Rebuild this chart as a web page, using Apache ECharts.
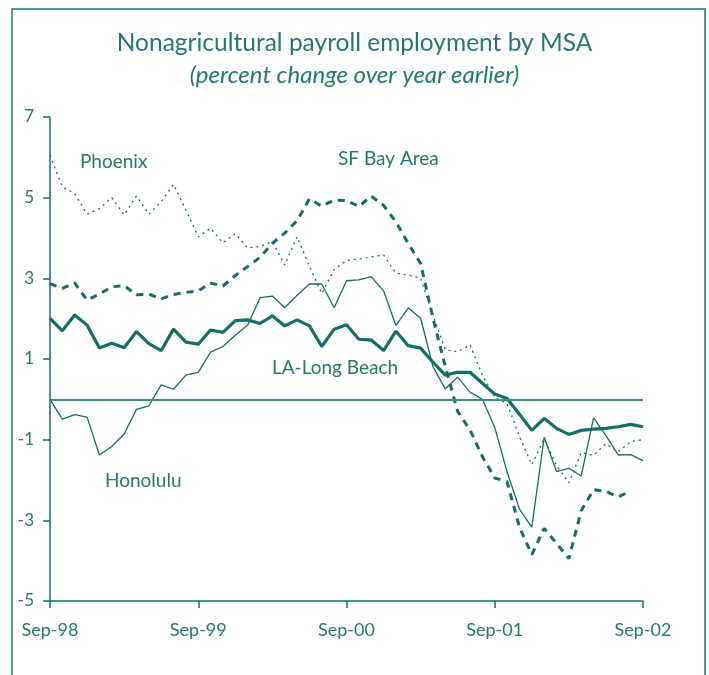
<!DOCTYPE html>
<html>
<head>
    <meta charset="utf-8">
    <title>Nonagricultural payroll employment by MSA</title>
    <script src="https://cdn.jsdelivr.net/npm/echarts@6.0.0/dist/echarts.min.js"></script>
    <style>
        html, body { margin: 0; padding: 0; background: #fff; }
        #chart { width: 709px; height: 675px; }
    </style>
</head>
<body>
<div id="chart"></div>
<script type="text/javascript">
    // monthly, Sep-98 .. Sep-02
    var monthNames = ['Sep', 'Oct', 'Nov', 'Dec', 'Jan', 'Feb', 'Mar', 'Apr', 'May', 'Jun', 'Jul', 'Aug'];
    var startYear = 98;
    var monthCount = 49;

    var yTicks = [-5, -3, -1, 1, 3, 5, 7];

    var laLongBeach = [2.01, 1.70, 2.09, 1.84, 1.27, 1.39, 1.28, 1.68, 1.38, 1.21, 1.74, 1.42,
        1.37, 1.72, 1.66, 1.95, 1.97, 1.88, 2.07, 1.82, 1.97, 1.82, 1.31, 1.74,
        1.85, 1.49, 1.47, 1.21, 1.69, 1.33, 1.27, 0.92, 0.60, 0.67, 0.67, 0.40,
        0.13, 0.02, -0.37, -0.77, -0.47, -0.72, -0.87, -0.77, -0.74, -0.72, -0.68, -0.62,
        -0.68];
    var honolulu = [0, -0.49, -0.38, -0.44, -1.38, -1.17, -0.86, -0.25, -0.16, 0.36, 0.25, 0.60,
        0.67, 1.17, 1.31, 1.59, 1.84, 2.52, 2.56, 2.27, 2.58, 2.86, 2.86, 2.27,
        2.94, 2.96, 3.04, 2.69, 1.83, 2.27, 2.01, 0.81, 0.26, 0.55, 0.18, 0.00,
        -0.70, -1.80, -2.72, -3.17, -0.94, -1.79, -1.71, -1.90, -0.46, -0.90, -1.38, -1.37,
        -1.52];
    var phoenix = [6.05, 5.27, 5.10, 4.59, 4.73, 5.00, 4.57, 5.04, 4.59, 4.90, 5.33, 4.69,
        4.03, 4.24, 3.88, 4.11, 3.75, 3.79, 3.91, 3.33, 4.03, 3.30, 2.62, 3.22,
        3.44, 3.48, 3.53, 3.58, 3.13, 3.08, 3.00, 2.08, 1.23, 1.18, 1.35, 0.60,
        0.05, -0.11, -0.92, -1.62, -0.98, -1.64, -2.07, -1.32, -1.39, -1.10, -1.30, -1.05,
        -1.00];
    var sfBayArea = [2.87, 2.75, 2.89, 2.46, 2.61, 2.79, 2.82, 2.59, 2.61, 2.49, 2.60, 2.65,
        2.69, 2.88, 2.81, 3.07, 3.29, 3.52, 3.87, 4.12, 4.43, 4.97, 4.79, 4.94,
        4.93, 4.78, 5.04, 4.81, 4.40, 3.86, 3.37, 2.01, 0.81, -0.30, -0.76, -1.42,
        -1.95, -2.04, -3.17, -3.85, -3.20, -3.57, -3.95, -2.76, -2.24, -2.28, -2.42, -2.27,
        null];

    var months = [];
    for (var i = 0; i < monthCount; i++) {
        var yr = (startYear + Math.floor((i + 8) / 12)) % 100;
        months.push(monthNames[i % 12] + '-' + (yr < 10 ? '0' + yr : '' + yr));
    }

    var teal = '#136f66';
    var textTeal = '#237970';
    var font = 'Lato, "Open Sans", sans-serif';

    var myChart = echarts.init(document.getElementById('chart'));
    myChart.setOption({
        animation: false,
        title: {
            text: 'Nonagricultural payroll employment by MSA',
            subtext: '(percent change over year earlier)',
            left: 'center',
            top: 26,
            itemGap: 7,
            textStyle: {color: textTeal, fontFamily: font, fontSize: 24.5, fontWeight: 'normal'},
            subtextStyle: {color: textTeal, fontFamily: font, fontSize: 24, fontStyle: 'italic'}
        },
        grid: {left: 50, right: 66, top: 117, bottom: 74},
        xAxis: {
            type: 'category',
            data: months,
            boundaryGap: false,
            axisLine: {onZero: false, lineStyle: {color: teal, width: 1.5}},
            axisTick: {interval: 11, length: 7, lineStyle: {color: teal, width: 1.5}},
            axisLabel: {interval: 11, margin: 20, color: textTeal, fontFamily: font, fontSize: 18},
            splitLine: {show: false}
        },
        yAxis: {
            type: 'value',
            min: -5,
            max: 7,
            axisLine: {show: true, lineStyle: {color: teal, width: 1.5}},
            axisTick: {show: true, length: 7, customValues: yTicks, lineStyle: {color: teal, width: 1.5}},
            axisLabel: {margin: 16, customValues: yTicks, color: textTeal, fontFamily: font, fontSize: 17},
            splitLine: {show: false}
        },
        series: [
            {
                name: 'Phoenix',
                type: 'line',
                data: phoenix,
                symbol: 'none',
                lineStyle: {color: teal, width: 1.3, type: [2, 4]}
            },
            {
                name: 'SF Bay Area',
                type: 'line',
                data: sfBayArea,
                symbol: 'none',
                lineStyle: {color: teal, width: 3, type: [7, 6]}
            },
            {
                name: 'Honolulu',
                type: 'line',
                data: honolulu,
                symbol: 'none',
                lineStyle: {color: teal, width: 1.3},
                markLine: {
                    silent: true,
                    symbol: 'none',
                    label: {show: false},
                    lineStyle: {color: '#3a8b84', width: 2, type: 'solid'},
                    data: [{yAxis: 0}]
                }
            },
            {
                name: 'LA-Long Beach',
                type: 'line',
                data: laLongBeach,
                symbol: 'none',
                lineStyle: {color: teal, width: 3.2}
            }
        ],
        graphic: [
            {type: 'rect', shape: {x: 12, y: 9, width: 693, height: 720}, style: {fill: 'none', stroke: '#4f9891', lineWidth: 2}},
            {type: 'text', left: 80, top: 152, style: {text: 'Phoenix', fill: textTeal, font: '19px ' + font}},
            {type: 'text', left: 338, top: 149, style: {text: 'SF Bay Area', fill: textTeal, font: '19px ' + font}},
            {type: 'text', left: 272, top: 358, style: {text: 'LA-Long Beach', fill: textTeal, font: '19px ' + font}},
            {type: 'text', left: 105, top: 471, style: {text: 'Honolulu', fill: textTeal, font: '19px ' + font}}
        ]
    });
</script>
</body>
</html>
